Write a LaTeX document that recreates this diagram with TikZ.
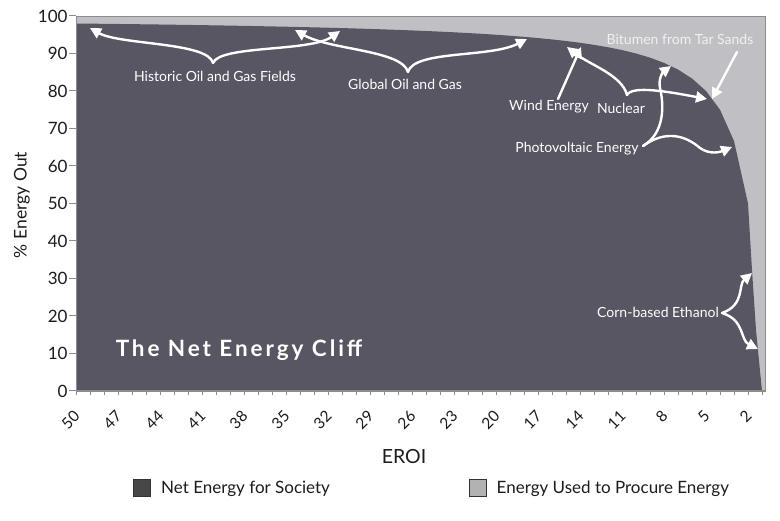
\documentclass[tikz,border=0pt]{standalone}
\usepackage{fontspec}
\setmainfont{Lato}
\newfontfamily\clifffont[LetterSpace=13]{Lato}
\usetikzlibrary{arrows.meta,positioning}
\definecolor{netgrey}{RGB}{87,86,98}
\definecolor{usedgrey}{RGB}{192,192,196}
\definecolor{axisgrey}{RGB}{140,140,140}
\definecolor{inkgrey}{RGB}{28,28,28}

\begin{document}
\begin{tikzpicture}[x=1pt,y=-1pt,
	note/.style={text=white,font=\fontsize{14}{16}\selectfont,inner sep=1pt},
	arr/.style={draw=white,line width=2.4pt,line cap=round,-{Triangle[length=11pt,width=11pt]}},
	ylab/.style={text=inkgrey,font=\fontsize{17}{19}\selectfont,anchor=east,inner sep=1pt},
	xlab/.style={text=inkgrey,font=\fontsize{15.5}{17}\selectfont,anchor=east,rotate=45,inner sep=0pt},
	legbox/.style={draw=black!80,line width=1pt,minimum size=17pt,inner sep=0pt},
	legtext/.style={text=inkgrey,font=\fontsize{17}{19}\selectfont,inner sep=1pt}]

	\fill[white] (0,0) rectangle (780,521);
	\useasboundingbox (0,0) rectangle (780,521);

	\fill[usedgrey,draw=axisgrey,line width=0.8pt] (76,16) rectangle (765,391);
	\fill[netgrey] (76,391) -- plot[domain=50:2,samples=49] ({76+(50-\x)*14},{391-375*(1-1/\x)}) -- (752,270) -- (756,330) -- (762,391) -- cycle;

	\draw[axisgrey,line width=1pt] (76,16) -- (76,391) -- (765,391);
	\foreach \e in {1,...,50}
		\draw[axisgrey,line width=1pt] ({76+(50-\e)*14},391) -- ++(0,4);
	\foreach \v in {0,10,...,100}
		\draw[axisgrey,line width=1pt] (76,{391-3.75*\v}) -- ++(-7,0) node[ylab] (y\v) {\v};
	\foreach \e in {50,47,...,2}
		\node[xlab] (x\e) at ({77+(50-\e)*14},413.5) {\e};

	\node[text=inkgrey,font=\fontsize{17.5}{19}\selectfont,rotate=90] (yaxis) at (22,205) {\% Energy Out};
	\node[text=inkgrey,font=\fontsize{19.5}{22}\selectfont] (xaxis) at (404,457) {EROI};

	\node[text=white,font=\clifffont\bfseries\fontsize{22.5}{24}\selectfont] (cliff) at (239,350) {The Net Energy Cliff};

	\node[note] (hist) at (215,76) {Historic Oil and Gas Fields};
	\node[note] (glob) at (405,84) {Global Oil and Gas};
	\node[note] (wind) at (549,107) {Wind Energy};
	\node[note] (nucl) at (621,108) {Nuclear};
	\node[note] (photo) at (577,149) {Photovoltaic Energy};
	\node[note,text=white!94!black] (bitu) at (680,39) {Bitumen from Tar Sands};
	\node[note] (corn) at (658,312) {Corn-based Ethanol};

	\coordinate (histtip) at (213,63);
	\coordinate (globtip) at (408,72);
	\coordinate (windfoot) at (558,99);
	\coordinate (nucltip) at (627,95);
	\coordinate (phototip) at (643,146);
	\coordinate (bitufoot) at (737,52);
	\coordinate (corntip) at (722,313);

	\draw[arr] (histtip) .. controls (208,42) and (120,45) .. (90,28);
	\draw[arr] (histtip) .. controls (220,45) and (310,52) .. (340,31);
	\draw[arr] (globtip) .. controls (402,50) and (330,50) .. (295,30);
	\draw[arr] (globtip) .. controls (414,50) and (490,58) .. (527,39);
	\draw[arr] (windfoot) -- (581,47);
	\draw[arr] (nucltip) .. controls (622,75) and (590,65) .. (567,47);
	\draw[arr] (nucltip) .. controls (632,85) and (670,92) .. (707,99);
	\draw[arr] (bitufoot) -- (712,99);
	\draw[arr] (phototip) .. controls (665,133) and (664,105) .. (660,88) .. controls (658,79) and (663,72) .. (671,66);
	\draw[arr] (phototip) .. controls (665,130) and (685,135) .. (700,148) .. controls (710,155) and (720,152) .. (732,147);
	\draw[arr] (corntip) .. controls (745,305) and (738,285) .. (752,273);
	\draw[arr] (corntip) .. controls (745,320) and (740,340) .. (758,349);

	\node[legbox,fill=black!72] (keynet) at (142,488.5) {};
	\node[legtext,right=9pt of keynet] (keynettext) {Net Energy for Society};
	\node[legbox,fill=black!30] (keyused) at (477.5,488.5) {};
	\node[legtext,right=9pt of keyused] (keyusedtext) {Energy Used to Procure Energy};

\end{tikzpicture}
\end{document}
